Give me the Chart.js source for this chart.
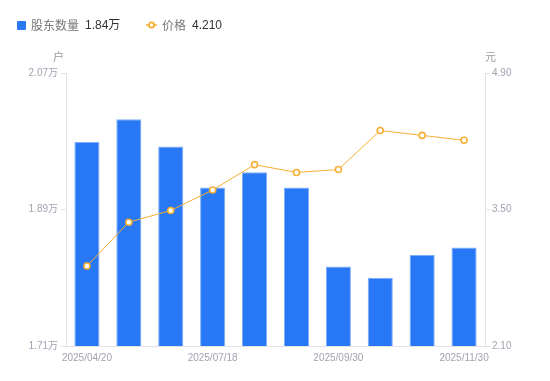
<!DOCTYPE html>
<html>
<head>
<meta charset="utf-8">
<script src="https://cdn.jsdelivr.net/npm/chart.js@4/dist/chart.umd.min.js"></script>
<style>
  html, body { margin: 0; padding: 0; background: #fff; }
  #wrap { position: relative; width: 550px; height: 381px; font-family: "Liberation Sans", "Noto Sans CJK SC", sans-serif; }
  #legend { position: absolute; left: 0; top: 0; width: 550px; height: 50px; font-size: 12px; }
  #legend span { position: absolute; top: 17px; line-height: 16px; white-space: nowrap; }
  .name { color: #777; font-family: "Noto Sans CJK SC", sans-serif; }
  .val { color: #333; }
  canvas { position: absolute; left: 0; top: 0; }
</style>
</head>
<body>
<div id="wrap">
  <canvas id="chart" width="550" height="381"></canvas>
  <div id="legend">
    <span style="left:17px;top:21px;width:9px;height:9px;background:#2878F5;border-radius:1px;"></span>
    <span class="name" style="left:31px;">股东数量</span>
    <span class="val" id="v1" style="left:85px;"></span>
    <span style="left:146px;top:20px;line-height:0;">
      <svg width="11" height="10"><line x1="0" y1="5" x2="11" y2="5" stroke="#F8AE32" stroke-width="1.5"/><circle cx="5.5" cy="5" r="2.6" fill="#fff" stroke="#F8AE32" stroke-width="1.8"/></svg>
    </span>
    <span class="name" style="left:162px;">价格</span>
    <span class="val" id="v2" style="left:192px;"></span>
  </div>
</div>
<script>
  // 日期（中间几期未显示标签，只显示每隔3个）
  const dates = ['2025/04/20', '2025/05/20', '2025/06/20', '2025/07/18', '2025/07/31',
                 '2025/08/31', '2025/09/30', '2025/10/20', '2025/10/31', '2025/11/30'];
  // 股东数量（户）
  const holders = [19790, 20090, 19730, 19190, 19390, 19190, 18150, 18000, 18300, 18400];
  // 价格（元）
  const prices = [2.92, 3.37, 3.49, 3.70, 3.96, 3.88, 3.91, 4.31, 4.26, 4.21];
  // 坐标轴刻度
  const holderTicks = [17100, 18900, 20700];
  const priceTicks = [2.10, 3.50, 4.90];

  const blue = '#2878F5';
  const orange = '#F8AE32';
  const tickColor = '#a0a3b1';
  const lineColor = '#e3e3e6';

  document.getElementById('v1').textContent = (holders[holders.length - 1] / 10000).toFixed(2) + '万';
  document.getElementById('v2').textContent = prices[prices.length - 1].toFixed(3);

  // 轴顶部单位 户 / 元
  const unitPlugin = {
    id: 'unitLabels',
    afterDraw: (chart) => {
      const ctx = chart.ctx;
      const area = chart.chartArea;
      ctx.save();
      ctx.font = '11px "Noto Sans CJK SC", sans-serif';
      ctx.fillStyle = '#999';
      ctx.textBaseline = 'middle';
      ctx.textAlign = 'right';
      ctx.fillText('户', area.left - 2, 57);
      ctx.textAlign = 'left';
      ctx.fillText('元', area.right, 57);
      ctx.restore();
    }
  };

  const tickFont = { family: '"Liberation Sans", "Noto Sans CJK SC", sans-serif', size: 10 };

  new Chart(document.getElementById('chart').getContext('2d'), {
    data: {
      labels: dates,
      datasets: [{
        type: 'bar',
        label: '股东数量',
        data: holders,
        yAxisID: 'y',
        backgroundColor: blue,
        borderColor: '#7eaef8',
        borderWidth: { top: 1, left: 1, right: 1, bottom: 0 },
        borderSkipped: false,
        barPercentage: 0.6,
        categoryPercentage: 1,
        order: 1
      }, {
        type: 'line',
        label: '价格',
        data: prices,
        yAxisID: 'y1',
        borderColor: orange,
        borderWidth: 1,
        pointRadius: 3,
        pointBorderWidth: 1.6,
        pointBackgroundColor: '#fff',
        pointBorderColor: orange,
        tension: 0,
        order: 0
      }]
    },
    options: {
      responsive: false,
      animation: false,
      layout: { padding: { top: 73, left: 0, right: 0, bottom: 0 } },
      plugins: {
        legend: { display: false },
        tooltip: { enabled: false }
      },
      scales: {
        x: {
          grid: { drawOnChartArea: false, drawTicks: false },
          border: { display: true, color: lineColor },
          ticks: {
            autoSkip: false,
            maxRotation: 0,
            padding: 6,
            color: tickColor,
            font: tickFont,
            callback: function (v, i) { return i % 3 === 0 ? this.getLabelForValue(v) : ''; }
          },
          afterFit: (s) => { s.height = 35; }
        },
        y: {
          position: 'left',
          min: holderTicks[0],
          max: holderTicks[holderTicks.length - 1],
          grid: { drawOnChartArea: false, tickLength: 5, color: lineColor },
          border: { color: lineColor },
          ticks: {
            padding: 3,
            color: tickColor,
            font: tickFont,
            callback: (v) => (v / 10000).toFixed(2) + '万'
          },
          afterBuildTicks: (s) => { s.ticks = holderTicks.map(v => ({ value: v })); },
          afterFit: (s) => { s.width = 66; }
        },
        y1: {
          position: 'right',
          min: priceTicks[0],
          max: priceTicks[priceTicks.length - 1],
          grid: { drawOnChartArea: false, tickLength: 5, color: lineColor },
          border: { color: lineColor },
          ticks: {
            padding: 2,
            color: tickColor,
            font: tickFont,
            callback: (v) => v.toFixed(2)
          },
          afterBuildTicks: (s) => { s.ticks = priceTicks.map(v => ({ value: v })); },
          afterFit: (s) => { s.width = 65; }
        }
      }
    },
    plugins: [unitPlugin]
  });
</script>
</body>
</html>
